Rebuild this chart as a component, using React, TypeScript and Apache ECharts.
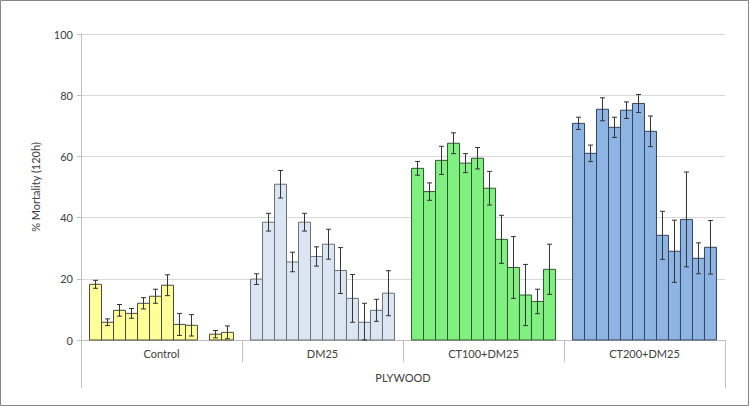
import React, { useEffect, useRef } from "react";
import * as echarts from "echarts";

const categories = ["Control", "DM25", "CT100+DM25", "CT200+DM25"];
const superCategory = ["PLYWOOD"];
const yTicks = { min: 0, max: 100, interval: 20 };

const controlValues = [18.2, 5.8, 9.7, 8.7, 12.0, 14.3, 17.9, 5.1, 4.8, null, 1.9, 2.5];
const controlErrors = [1.3, 1.1, 1.9, 1.6, 1.85, 2.3, 3.4, 3.6, 3.5, null, 1.2, 2.1];

const dm25Values = [19.9, 38.5, 50.9, 25.5, 38.5, 27.3, 31.3, 22.7, 13.6, 5.8, 9.7, 15.3];
const dm25Errors = [1.75, 2.9, 4.5, 3.2, 2.9, 3.15, 4.9, 7.5, 7.8, 6.2, 3.6, 7.35];

const ct100Values = [56.1, 48.5, 58.7, 64.3, 57.8, 59.4, 49.6, 32.9, 23.7, 14.7, 12.6, 23.1];
const ct100Errors = [2.25, 2.85, 4.6, 3.4, 3.1, 3.5, 5.5, 7.85, 10.1, 10.0, 4.0, 8.2];

const ct200Values = [70.8, 61.0, 75.4, 69.5, 75.1, 77.3, 68.2, 34.2, 29.0, 39.4, 26.7, 30.3];
const ct200Errors = [2.0, 2.7, 3.75, 3.3, 2.7, 2.95, 5.0, 7.85, 10.15, 15.5, 5.05, 8.75];

const groupValues = [controlValues, dm25Values, ct100Values, ct200Values];
const groupErrors = [controlErrors, dm25Errors, ct100Errors, ct200Errors];
const groupFill = ["#ffff99", "#dce6f2", "#80f080", "#8eb4e3"];
const groupStroke = ["#4a4a3a", "#6a7078", "#2e5a2e", "#34445e"];

export default function App() {
  const ref = useRef<HTMLDivElement>(null);
  useEffect(() => {
    document.body.style.margin = "0";
    if (!ref.current) return;
    const chart = echarts.init(ref.current, undefined, { renderer: "svg" });
    const data: any[] = [];
    groupValues.forEach((vals, g) => {
      vals.forEach((v, i) => {
        if (v === null || v === undefined) return;
        data.push([g, i, v, groupErrors[g][i]]);
      });
    });
    const font = "Lato";
    const option: any = {
      animation: false,
      grid: { left: 81, right: 25, top: 34, bottom: 68 },
      xAxis: [
        {
          type: "category",
          data: categories,
          axisLine: { show: true, lineStyle: { color: "#bfbfbf", width: 1 } },
          axisTick: { show: true, length: 22, alignWithLabel: false, lineStyle: { color: "#bfbfbf" } },
          axisLabel: { color: "#404040", fontSize: 11, fontFamily: font, margin: 8 },
          splitLine: { show: false },
        },
        {
          type: "category",
          data: superCategory,
          position: "bottom",
          axisLine: { show: false },
          axisTick: { show: true, length: 48, lineStyle: { color: "#bfbfbf" } },
          axisLabel: { color: "#404040", fontSize: 11, fontFamily: font, margin: 32 },
          splitLine: { show: false },
        },
      ],
      yAxis: {
        type: "value",
        min: yTicks.min,
        max: yTicks.max,
        interval: yTicks.interval,
        name: "% Mortality (120h)",
        nameLocation: "middle",
        nameGap: 40,
        nameTextStyle: { color: "#404040", fontSize: 11, fontFamily: font },
        axisLine: { show: true, lineStyle: { color: "#bfbfbf" } },
        axisTick: { show: true, length: 4, lineStyle: { color: "#bfbfbf" } },
        axisLabel: { color: "#404040", fontSize: 11, fontFamily: font, margin: 8 },
        splitLine: { show: true, lineStyle: { color: "#d9d9d9" } },
      },
      graphic: [
        {
          type: "rect",
          shape: { x: 0.5, y: 0.5, width: 748, height: 405 },
          style: { fill: "none", stroke: "#868686", lineWidth: 1 },
          silent: true,
        },
      ],
      series: [
        {
          type: "custom",
          xAxisIndex: 0,
          yAxisIndex: 0,
          encode: { x: 0, y: 2 },
          data,
          renderItem: (params: any, api: any) => {
            const g = api.value(0);
            const slot = api.value(1);
            const v = api.value(2);
            const e = api.value(3);
            const base = api.coord([g, 0]);
            const catW = api.size([1, 0])[0];
            const barsW = catW * 0.894;
            const barW = barsW / 12;
            const x0 = base[0] - barsW / 2 + slot * barW;
            const top = api.coord([g, v])[1];
            const cx = x0 + barW / 2;
            const yHi = api.coord([g, v + e])[1];
            const yLo = api.coord([g, Math.max(0, v - e)])[1];
            const cap = 2.5;
            const errStyle = { stroke: "#333333", lineWidth: 1 };
            return {
              type: "group",
              children: [
                {
                  type: "rect",
                  shape: { x: x0, y: top, width: barW, height: base[1] - top },
                  style: { fill: groupFill[g], stroke: groupStroke[g], lineWidth: 1 },
                },
                { type: "line", shape: { x1: cx, y1: yHi, x2: cx, y2: yLo }, style: errStyle },
                { type: "line", shape: { x1: cx - cap, y1: yHi, x2: cx + cap, y2: yHi }, style: errStyle },
                { type: "line", shape: { x1: cx - cap, y1: yLo, x2: cx + cap, y2: yLo }, style: errStyle },
              ],
            };
          },
        },
      ],
    };
    chart.setOption(option);
    return () => chart.dispose();
  }, []);
  return <div ref={ref} style={{ width: 750, height: 408 }} />;
}
